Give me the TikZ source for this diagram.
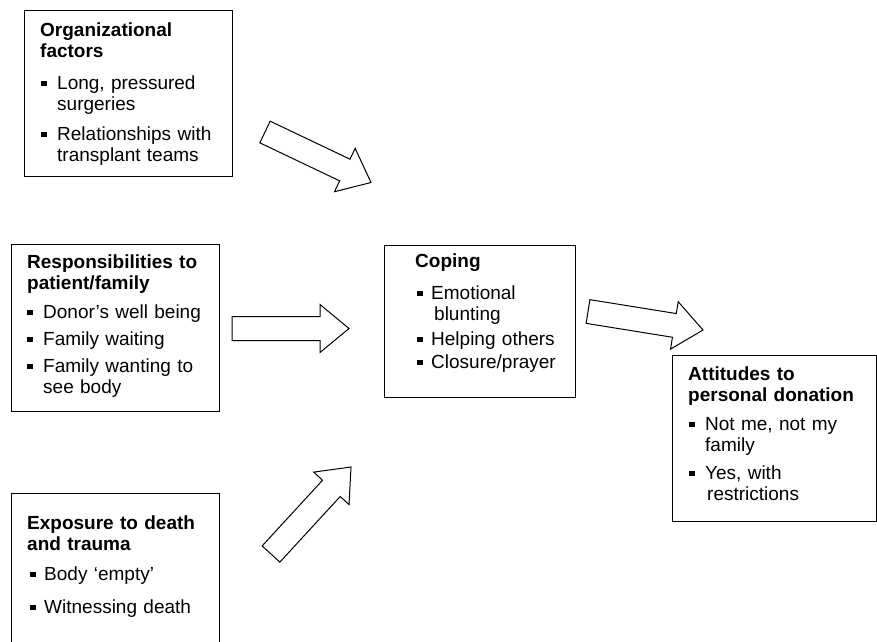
\documentclass[tikz,border=0pt]{standalone}
\usepackage{fontspec}
\setmainfont{Liberation Sans}
\usetikzlibrary{calc}
\newlength\bulsh
\newlength\txtsh
\newcommand{\bul}{\makebox[\txtsh][l]{\hspace*{\bulsh}\raisebox{3.6pt}{\rule{5.5pt}{5.5pt}}}}
\newcommand{\cont}{\hspace*{\txtsh}}
\tikzset{
  boxframe/.style={draw,line width=1.4pt,inner sep=0pt,anchor=north west},
  boxtext/.style={anchor=north west,inner sep=0pt,text width=180pt,align=left,
    font=\fontsize{19}{21}\selectfont},
  bul sh/.code={\setlength\bulsh{#1}},
  txt sh/.code={\setlength\txtsh{#1}},
  fat/.style={draw,line width=1pt,line join=miter,fill=white}
}
% block arrow from tail coordinate #1 to tip coordinate #2
\newcommand{\fatarrow}[2]{%
  \coordinate (#1b) at ($(#2)!29pt!(#1)$);
  \draw[fat] ($(#1)!12pt!90:(#2)$) -- ($(#1b)!12pt!-90:(#1)$) -- ($(#1b)!24pt!-90:(#1)$)
    -- (#2) -- ($(#1b)!24pt!90:(#1)$) -- ($(#1b)!12pt!90:(#1)$) -- ($(#1)!12pt!-90:(#2)$) -- cycle;}

\begin{document}
\begin{tikzpicture}[x=1pt,y=1pt]
\useasboundingbox (0,0) rectangle (877,-641);
% frames
\node[boxframe,minimum width=208pt,minimum height=166pt] (org) at (24,-10) {};
\node[boxframe,minimum width=208pt,minimum height=167pt] (resp) at (11,-244) {};
\node[boxframe,minimum width=208pt,minimum height=175pt] (expo) at (11,-493) {};
\node[boxframe,minimum width=191pt,minimum height=152pt] (cope) at (384,-245) {};
\node[boxframe,minimum width=204pt,minimum height=166pt] (att) at (672,-355) {};
% texts
\node[boxtext,bul sh=1pt,txt sh=17pt] (org-t) at (40,-23) {{\bfseries Organizational\\ factors}\\[11pt]
  \bul Long, pressured\\ \cont surgeries\\[9pt]
  \bul Relationships with\\ \cont transplant teams};
\node[boxtext,bul sh=0pt,txt sh=16pt] (resp-t) at (27,-255) {{\bfseries Responsibilities to\\ patient/family}\\[8pt]
  \bul Donor’s well being\\[6pt]
  \bul Family waiting\\[6pt]
  \bul Family wanting to\\ \cont see body};
\node[boxtext,bul sh=3pt,txt sh=17pt] (expo-t) at (27,-516) {{\bfseries Exposure to death\\ and trauma}\\[9pt]
  \bul Body ‘empty’\\[12pt]
  \bul Witnessing death};
\node[boxtext,bul sh=2pt,txt sh=16pt] (cope-t) at (415,-254) {{\bfseries Coping}\\[11pt]
  \bul Emotional\\ \cont\hspace*{3pt}blunting\\[4pt]
  \bul Helping others\\[2pt]
  \bul Closure/prayer};
\node[boxtext,bul sh=1pt,txt sh=17pt] (att-t) at (688,-367) {{\bfseries Attitudes to\\ personal donation}\\[8pt]
  \bul Not me, not my\\ \cont family\\[7pt]
  \bul Yes, with\\ \cont\hspace*{2pt}restrictions};
% arrows
\coordinate (a1t) at (265,-132);
\coordinate (a1h) at (371,-182.5);
\coordinate (a2t) at (232,-328.5);
\coordinate (a2h) at (349,-328.5);
\coordinate (a3t) at (271,-554);
\coordinate (a3h) at (351,-467);
\coordinate (a4t) at (588,-311.5);
\coordinate (a4h) at (703,-330);
\fatarrow{a1t}{a1h}
\fatarrow{a2t}{a2h}
\fatarrow{a3t}{a3h}
\fatarrow{a4t}{a4h}
\end{tikzpicture}
\end{document}
